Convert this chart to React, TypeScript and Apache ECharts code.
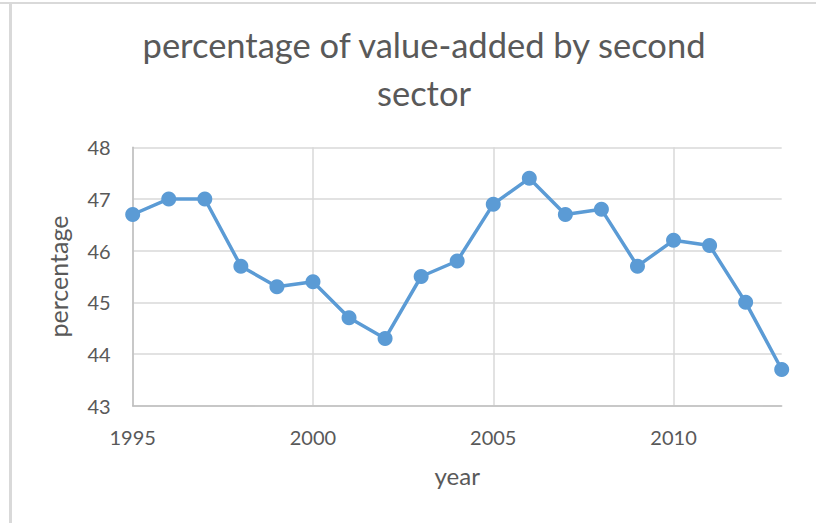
import React, { useEffect, useRef } from "react";
import * as echarts from "echarts";

const years: string[] = [
  "1995", "1996", "1997", "1998", "1999", "2000", "2001", "2002", "2003", "2004",
  "2005", "2006", "2007", "2008", "2009", "2010", "2011", "2012", "2013",
];
const percentage: number[] = [
  46.7, 47.0, 47.0, 45.7, 45.3, 45.4, 44.7, 44.3, 45.5, 45.8,
  46.9, 47.4, 46.7, 46.8, 45.7, 46.2, 46.1, 45.0, 43.7,
];
const titleLines: string[] = ["percentage of value-added by second", "sector"];
const xName = "year";
const yName = "percentage";
const yMin = 43;
const yMax = 48;
const yStep = 1;

const FONT = "Lato, 'Open Sans', sans-serif";

export default function App() {
  const ref = useRef<HTMLDivElement>(null);
  useEffect(() => {
    if (!ref.current) return;
    const chart = echarts.init(ref.current, undefined, { renderer: "svg" });
    chart.setOption({
      animation: false,
      backgroundColor: "#ffffff",
      title: {
        text: titleLines.join("\n"),
        left: 419,
        top: 15,
        textAlign: "center",
        textStyle: {
          fontFamily: FONT,
          fontSize: 34.5,
          fontWeight: "normal",
          color: "#595959",
          lineHeight: 48,
        },
      },
      graphic: [
        {
          type: "line",
          shape: { x1: 0, y1: 3, x2: 816, y2: 3 },
          style: { stroke: "#d9d9d9", lineWidth: 2 },
        },
        {
          type: "line",
          shape: { x1: 10.5, y1: 3, x2: 10.5, y2: 523 },
          style: { stroke: "#d9d9d9", lineWidth: 3 },
        },
      ],
      grid: { left: 132.7, right: 34.3, top: 147.3, bottom: 117.3, containLabel: false },
      xAxis: {
        type: "category",
        data: years,
        boundaryGap: false,
        name: xName,
        nameLocation: "middle",
        nameGap: 58,
        nameTextStyle: { fontFamily: FONT, fontSize: 24, color: "#595959" },
        axisLine: { show: true, lineStyle: { color: "#bfbfbf", width: 1.5 } },
        axisTick: { show: false },
        axisLabel: {
          interval: 4,
          margin: 21,
          fontFamily: FONT,
          fontSize: 20,
          color: "#595959",
        },
        splitLine: { show: true, interval: 4, lineStyle: { color: "#d9d9d9", width: 1.5 } },
      },
      yAxis: {
        type: "value",
        min: yMin,
        max: yMax,
        interval: yStep,
        name: yName,
        nameLocation: "middle",
        nameGap: 62,
        nameRotate: 90,
        nameTextStyle: { fontFamily: FONT, fontSize: 25, color: "#595959" },
        axisLine: { show: true, lineStyle: { color: "#bfbfbf", width: 1.5 } },
        axisTick: { show: false },
        axisLabel: { margin: 22, fontFamily: FONT, fontSize: 20, color: "#595959" },
        splitLine: { show: true, lineStyle: { color: "#d9d9d9", width: 1.5 } },
      },
      series: [
        {
          type: "line",
          data: percentage,
          symbol: "circle",
          symbolSize: 15,
          lineStyle: { color: "#5b9bd5", width: 3.5 },
          itemStyle: { color: "#5b9bd5" },
        },
      ],
    });
    return () => chart.dispose();
  }, []);
  return (
    <div
      ref={ref}
      style={{ position: "fixed", left: 0, top: 0, width: 816, height: 523 }}
    />
  );
}
